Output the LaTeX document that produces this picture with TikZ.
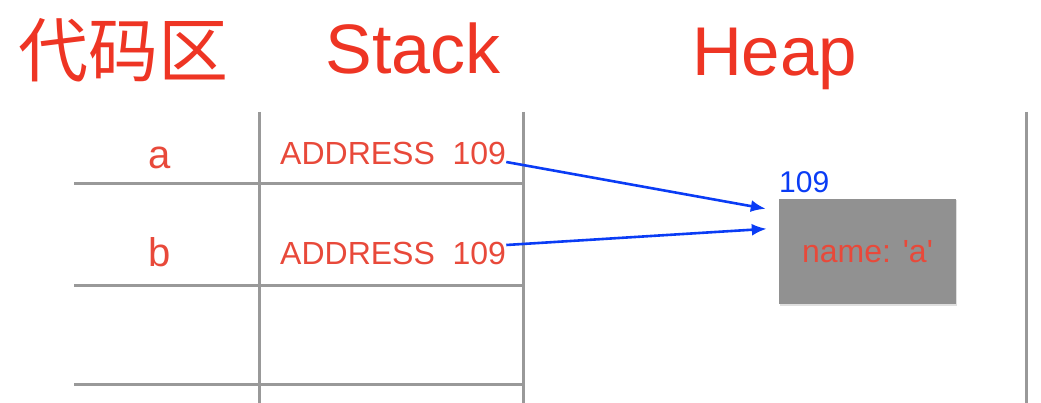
\documentclass[tikz,border=0pt]{standalone}
\usepackage{fontspec}
\setmainfont{Liberation Sans}
\newfontfamily\cjk{Noto Sans CJK SC}
\usetikzlibrary{arrows.meta,shadows}
\definecolor{titlered}{HTML}{EE3524}
\definecolor{textred}{HTML}{E8493A}
\definecolor{linegray}{HTML}{999999}
\definecolor{ptrblue}{HTML}{0A3CF5}
\definecolor{boxgray}{HTML}{919191}

\begin{document}
\begin{tikzpicture}[x=1pt, y=-1pt, every node/.style={inner sep=0pt},%
        areatitle/.style={text=titlered, font=\fontsize{69}{80}\selectfont, anchor=base},
        cellname/.style={text=textred, font=\fontsize{40}{48}\selectfont, anchor=base},
        celltext/.style={text=textred, font=\fontsize{32}{38}\selectfont, anchor=base west},
        gridline/.style={draw=linegray, line width=3pt},
        ptr/.style={draw=ptrblue, line width=2.6pt, -{Latex[length=15pt,width=12pt]}},
        heapbox/.style={fill=boxgray, text=textred, font=\fontsize{32}{38}\selectfont, minimum width=177pt, minimum height=105pt, drop shadow={opacity=0.25, shadow xshift=1.2pt, shadow yshift=-1.5pt}}]
        \useasboundingbox (0,0) rectangle (1041,403);
        % titles
        \node[text=titlered, font=\cjk\fontsize{70}{80}\selectfont] (code) at (123,50) {代码区};
        \node[areatitle, font=\fontsize{70}{80}\selectfont] (stack) at (413,74) {Stack};
        \node[areatitle] (heap) at (774.5,76) {Heap};
        % table
        \draw[gridline] (259,112) -- (259,403);
        \draw[gridline] (523,112) -- (523,403);
        \draw[gridline] (1026,112) -- (1026,403);
        \foreach \y in {184,286,384}
            \draw[gridline] (74,\y) -- (523,\y);
        \node[cellname] (varA) at (160,169) {a};
        \node[cellname] (varB) at (160,267) {b};
        \node[celltext] (addrA) at (280,165) {ADDRESS~~109};
        \node[celltext] (addrB) at (280,265) {ADDRESS~~109};
        % heap object
        \node[heapbox] (obj) at (867.5,251.5) {name: \textquotesingle a\textquotesingle};
        \node[text=ptrblue, font=\fontsize{30}{36}\selectfont, anchor=base west] (objaddr) at (779,193) {109};
        \draw[ptr] ([yshift=3pt]addrA.base east) -- ([xshift=-13pt,yshift=-10pt]obj.north west);
        \draw[ptr] ([yshift=20pt]addrB.base east) -- ([xshift=-12pt,yshift=-30pt]obj.north west);
\end{tikzpicture}
\end{document}
